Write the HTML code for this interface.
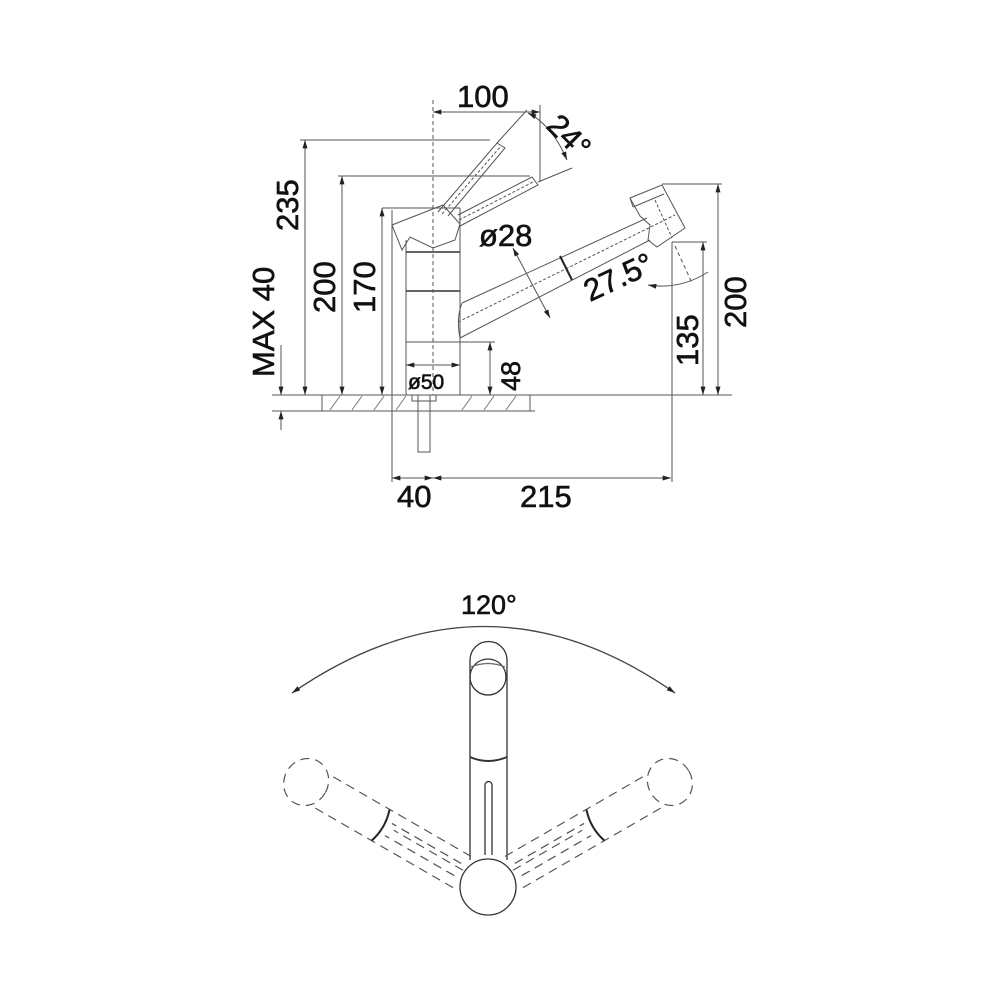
<!DOCTYPE html>
<html><head><meta charset="utf-8"><style>
html,body{margin:0;padding:0;background:#fff}
svg{display:block}
text{font-family:"Liberation Sans",Arial,sans-serif;fill:#111;stroke:#111;stroke-width:0.6}
</style></head><body>
<svg width="1000" height="1000" viewBox="0 0 1000 1000" xmlns="http://www.w3.org/2000/svg">
<defs>
<marker id="a" viewBox="0 0 10 6" refX="10" refY="3" markerWidth="9" markerHeight="5" orient="auto-start-reverse" markerUnits="userSpaceOnUse"><path d="M0,0 L10,3 L0,6 Z" fill="#222"/></marker>
</defs>
<g stroke="#555" stroke-width="1" fill="none">
<line x1="272" y1="395" x2="732" y2="395"/>
<line x1="272" y1="411" x2="535" y2="411"/>
<line x1="322" y1="395" x2="322" y2="411"/>
<line x1="530" y1="395" x2="530" y2="411"/>
<g stroke="#777">
<path d="M330,410 l10,-14 M352,410 l10,-14 M374,410 l10,-14 M396,410 l10,-14 M462,410 l10,-14 M484,410 l10,-14 M506,410 l10,-14"/>
</g>
<rect x="418" y="395" width="12" height="57"/>
<rect x="412" y="395" width="24" height="6"/>
<line x1="406" y1="240" x2="406" y2="395"/>
<line x1="460" y1="208" x2="460" y2="395"/>
<line x1="406" y1="252" x2="460" y2="252" stroke="#333" stroke-width="1.5"/>
<line x1="406" y1="291" x2="460" y2="291" stroke="#333" stroke-width="1.5"/>
<line x1="406" y1="342" x2="460" y2="342"/>
<line x1="382" y1="208" x2="460" y2="208"/>
<line x1="433" y1="100" x2="433" y2="395" stroke-dasharray="4,3"/>
<path d="M392,225 L443,205 L460,224 L455,240 L433,248 L410,237 L402,250 Z"/>
<path d="M438,212 L497,143 L505,148 L448,216"/>
<line x1="442" y1="214" x2="501" y2="146" stroke-dasharray="3,2"/>
<path d="M458,215 L532,177 L538,185 L460,226"/>
<line x1="459" y1="220" x2="535" y2="181" stroke-dasharray="3,2"/>
<path d="M462,303 L647,218 M460,338 L650,240 M462,303 Q456,318 460,338"/>
<line x1="458" y1="322" x2="675" y2="215" stroke-dasharray="3,2"/>
<line x1="560" y1="256" x2="572" y2="280" stroke="#222" stroke-width="2"/>
<path d="M630,198 L662,185 L685,228 L657,247 L648,240 L650,225 L640,216 Z"/>
<line x1="630" y1="198" x2="633" y2="207"/>
<line x1="633" y1="207" x2="664" y2="194"/>
<line x1="655" y1="200" x2="672" y2="238" stroke-dasharray="3,2"/>
<line x1="300" y1="140" x2="490" y2="140"/>
<line x1="338" y1="176" x2="530" y2="176"/>
<line x1="305" y1="140" x2="305" y2="395" marker-start="url(#a)" marker-end="url(#a)"/>
<line x1="342" y1="176" x2="342" y2="395" marker-start="url(#a)" marker-end="url(#a)"/>
<line x1="382" y1="208" x2="382" y2="395" marker-start="url(#a)" marker-end="url(#a)"/>
<line x1="281" y1="345" x2="281" y2="395" marker-end="url(#a)"/>
<line x1="281" y1="430" x2="281" y2="411" marker-end="url(#a)"/>
<line x1="433" y1="112" x2="540" y2="112" marker-start="url(#a)" marker-end="url(#a)"/>
<line x1="540" y1="105" x2="540" y2="182"/>
<line x1="497" y1="143" x2="527" y2="110"/>
<line x1="538" y1="182" x2="572" y2="168"/>
<path d="M528,113 Q552,125 567,160" marker-start="url(#a)" marker-end="url(#a)"/>
<line x1="513" y1="248" x2="550" y2="318" marker-start="url(#a)" marker-end="url(#a)"/>
<line x1="460" y1="342" x2="495" y2="342"/>
<line x1="490" y1="342" x2="490" y2="395" marker-start="url(#a)" marker-end="url(#a)"/>
<line x1="406" y1="365" x2="460" y2="365" marker-start="url(#a)" marker-end="url(#a)"/>
<line x1="662" y1="184" x2="722" y2="184"/>
<line x1="672" y1="242" x2="707" y2="242"/>
<line x1="718" y1="184" x2="718" y2="395" marker-start="url(#a)" marker-end="url(#a)"/>
<line x1="703" y1="242" x2="703" y2="395" marker-start="url(#a)" marker-end="url(#a)"/>
<line x1="672" y1="242" x2="672" y2="482"/>
<line x1="675" y1="246" x2="692" y2="283" stroke-dasharray="4,3"/>
<path d="M648,285 Q680,290 708,272" marker-start="url(#a)"/>
<line x1="392" y1="210" x2="392" y2="482"/>
<line x1="392" y1="478" x2="433" y2="478" marker-start="url(#a)" marker-end="url(#a)"/>
<line x1="433" y1="478" x2="671" y2="478" marker-start="url(#a)" marker-end="url(#a)"/>
</g>
<g font-size="31">
<text x="457" y="107">100</text>
<text x="397" y="507">40</text>
<text x="520" y="507">215</text>
<text x="479" y="246">ø28</text>
<text x="408" y="389" font-size="21">ø50</text>
<text transform="translate(298,231) rotate(-90)">235</text>
<text transform="translate(335,313) rotate(-90)">200</text>
<text transform="translate(375,313) rotate(-90)">170</text>
<text transform="translate(274,377) rotate(-90)">MAX 40</text>
<text transform="translate(520,391) rotate(-90)" font-size="27">48</text>
<text transform="translate(698,366) rotate(-90)">135</text>
<text transform="translate(746,328) rotate(-90)">200</text>
<text transform="translate(590,302) rotate(-25)">27.5°</text>
<text transform="translate(545,127) rotate(45)">24°</text>
<text x="461" y="614" font-size="27">120°</text>
</g>
<g stroke="#333" stroke-width="1.3" fill="none">
<path d="M292,693 Q485,560 675,693" stroke="#444" marker-start="url(#a)" marker-end="url(#a)"/>
<path d="M470,860 L470,660 A18.5,18.5 0 0 1 507,660 L507,860"/>
<circle cx="488" cy="677" r="18"/>
<path d="M471,667 Q488,660 505,667" stroke="#666"/>
<path d="M470,757 Q488,765 507,757" stroke-width="2"/>
<path d="M485,855 L485,785 A3.5,3.5 0 0 1 492,785 L492,855"/>
</g>
<g stroke="#555" stroke-width="1.2" fill="none" stroke-dasharray="9,6">
<g transform="translate(488,887) rotate(30)">
<line x1="-30" y1="-18" x2="-190" y2="-18"/>
<line x1="-30" y1="18" x2="-190" y2="18"/>
<line x1="-35" y1="-7" x2="-115" y2="-7"/>
<line x1="-35" y1="7" x2="-115" y2="7"/>
<line x1="-30" y1="-2" x2="-110" y2="-2"/>
<ellipse cx="-210" cy="0" rx="22" ry="24"/>
<path d="M-124,-18 Q-118,0 -124,18" stroke-dasharray="none" stroke="#222" stroke-width="2"/>
</g>
<g transform="translate(488,887) rotate(-30)">
<line x1="30" y1="-18" x2="190" y2="-18"/>
<line x1="30" y1="18" x2="190" y2="18"/>
<line x1="35" y1="-7" x2="115" y2="-7"/>
<line x1="35" y1="7" x2="115" y2="7"/>
<line x1="30" y1="-2" x2="110" y2="-2"/>
<ellipse cx="210" cy="0" rx="22" ry="24"/>
<path d="M124,-18 Q118,0 124,18" stroke-dasharray="none" stroke="#222" stroke-width="2"/>
</g>
</g>
<circle cx="488" cy="887" r="28" fill="#fff" stroke="#333" stroke-width="1.3"/>
</svg>
</body></html>
